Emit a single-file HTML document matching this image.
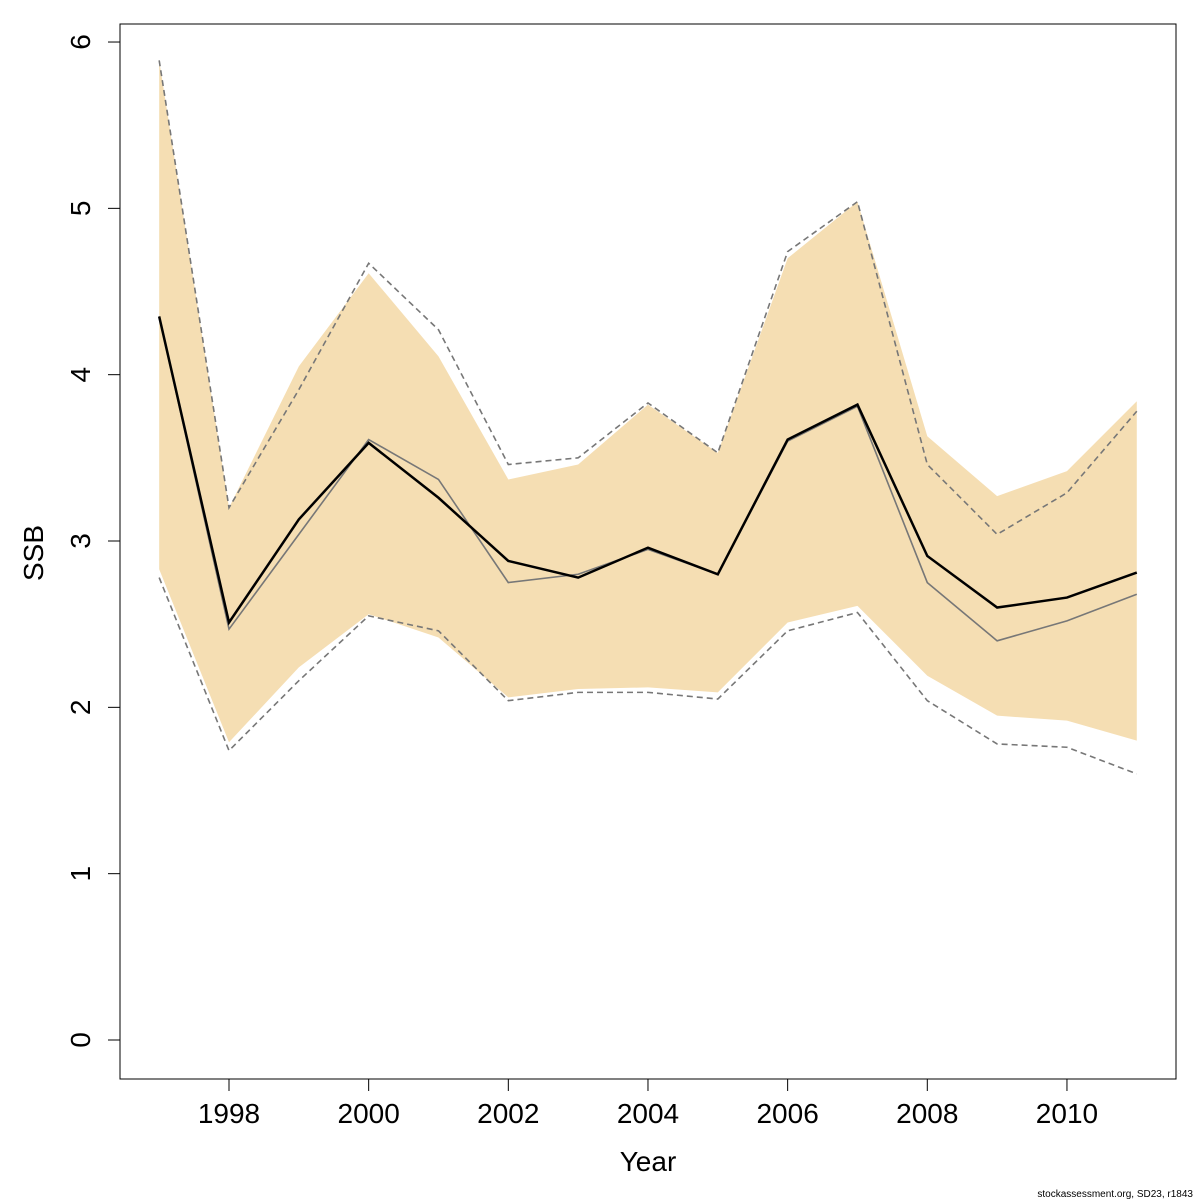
<!DOCTYPE html>
<html><head><meta charset="utf-8"><style>
body{margin:0;background:#fff}
svg{display:block;font-family:"Liberation Sans","DejaVu Sans",sans-serif}
</style></head><body>
<svg id="chart" width="1200" height="1200" viewBox="0 0 1200 1200">
<rect x="0" y="0" width="1200" height="1200" fill="#fff"/>
<g id="band"></g>
<g id="lines"></g>
<rect x="120" y="24" width="1056" height="1055" fill="none" stroke="#000" stroke-width="1"/>
<g id="xaxis"></g>
<g id="yaxis"></g>
<text x="648" y="1171" font-size="28" text-anchor="middle">Year</text>
<text transform="translate(43,553) rotate(-90)" font-size="28" text-anchor="middle">SSB</text>
<text x="1193" y="1197" font-size="10" text-anchor="end">stockassessment.org, SD23, r1843</text>
</svg>
<script>
const years=[1997,1998,1999,2000,2001,2002,2003,2004,2005,2006,2007,2008,2009,2010,2011];
const ssb=[4.35,2.51,3.13,3.59,3.26,2.88,2.78,2.96,2.80,3.61,3.82,2.91,2.60,2.66,2.81];
const ssbPrev=[4.35,2.47,3.04,3.61,3.37,2.75,2.80,2.95,2.80,3.60,3.81,2.75,2.40,2.52,2.68];
const bandHigh=[5.89,3.20,4.05,4.61,4.11,3.37,3.46,3.82,3.53,4.70,5.04,3.63,3.27,3.42,3.84];
const bandLow=[2.83,1.79,2.24,2.56,2.42,2.06,2.11,2.12,2.09,2.51,2.61,2.19,1.95,1.92,1.80];
const prevHigh=[5.89,3.20,3.91,4.67,4.27,3.46,3.50,3.83,3.53,4.74,5.04,3.46,3.04,3.29,3.78];
const prevLow=[2.78,1.74,2.16,2.55,2.46,2.04,2.09,2.09,2.05,2.46,2.57,2.04,1.78,1.76,1.60];
const xTicks=[1998,2000,2002,2004,2006,2008,2010];
const yTicks=[0,1,2,3,4,5,6];
const NS="http://www.w3.org/2000/svg";
const X=y=>229+(y-1998)*69.83;
const Y=v=>1040-v*166.33;
function mk(t,a,p){const e=document.createElementNS(NS,t);for(const k in a)e.setAttribute(k,a[k]);p.appendChild(e);return e;}
const band=document.getElementById('band');
let pts=years.map((y,i)=>X(y)+','+Y(bandHigh[i]));
for(let i=years.length-1;i>=0;i--)pts.push(X(years[i])+','+Y(bandLow[i]));
const poly=mk('polygon',{points:pts.join(' '),fill:'#f5deb3'},band);


const lines=document.getElementById('lines');
function line(arr,style,name){
 const p=mk('polyline',Object.assign({points:years.map((y,i)=>X(y)+','+Y(arr[i])).join(' '),fill:'none'},style),lines);
 
 
}
line(prevHigh,{stroke:'#777','stroke-width':1.6,'stroke-dasharray':'6,4'},'prev-upper-dashed');
line(prevLow,{stroke:'#777','stroke-width':1.6,'stroke-dasharray':'6,4'},'prev-lower-dashed');
line(ssbPrev,{stroke:'#777','stroke-width':1.6},'ssb-previous-line');
line(ssb,{stroke:'#000','stroke-width':2.5},'ssb-line');
const xa=document.getElementById('xaxis');
const xl=mk('line',{x1:X(1998),x2:X(2010),y1:1079,y2:1079,stroke:'#000'},xa);

xTicks.forEach(t=>{
 const tk=mk('line',{x1:X(t),x2:X(t),y1:1079,y2:1091,stroke:'#000'},xa);
 
 const tx=mk('text',{x:X(t),y:1123,'font-size':28,'text-anchor':'middle'},xa);
 tx.textContent=t;
 
});
const ya=document.getElementById('yaxis');
const yl=mk('line',{x1:120,x2:120,y1:Y(0),y2:Y(6),stroke:'#000'},ya);

yTicks.forEach(t=>{
 const tk=mk('line',{x1:108,x2:120,y1:Y(t),y2:Y(t),stroke:'#000'},ya);
 
 const tx=mk('text',{transform:`translate(90,${Y(t)}) rotate(-90)`,'font-size':28,'text-anchor':'middle'},ya);
 tx.textContent=t;
 
});
</script>
</body></html>
